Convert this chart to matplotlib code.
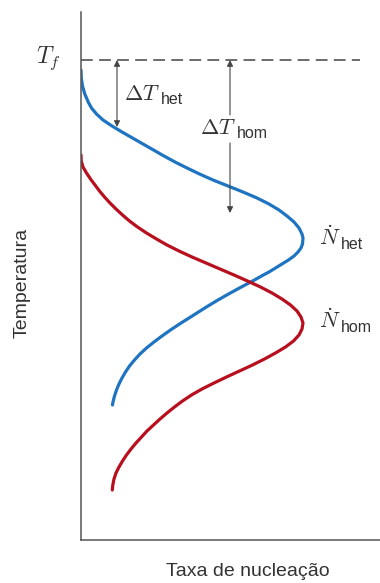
import matplotlib
matplotlib.use('Agg')
from matplotlib import pyplot as plt

plt.rcParams['mathtext.fontset'] = 'cm'
plt.rcParams['font.family'] = ['Liberation Sans', 'DejaVu Sans']
plt.rcParams['lines.scale_dashes'] = False

# curves (rate -> x, temperature -> y, arbitrary units)
het_rate = [0, 0.3, 1.5, 3.8, 7.2, 10.5, 15.5, 22, 31, 41, 51.5, 62, 72.5, 83, 94, 106,
            118.5, 132, 147, 162, 176, 188, 198, 206, 213, 218, 221, 222,
            221.5, 220, 217, 213, 207.5, 201, 194.5, 188, 180.5, 173.5, 166, 158.5, 147.5,
            137, 127, 117.5, 108, 98.5, 89.5, 81, 73, 65.5, 59, 53.5, 48.5, 44.5, 41, 38,
            35.5, 33.5, 32, 31.5]
het_temp = [470, 462, 454, 446, 438, 432, 426, 420, 414, 408, 402, 396, 390, 384, 378, 372,
            366, 360, 354, 348, 342, 336, 330, 324, 318, 312, 306, 302,
            296, 292, 288, 284, 280, 276, 272, 268, 264, 260, 256, 252, 246,
            240, 234, 228, 222, 216, 210, 204, 198, 192, 186, 180, 174, 168, 162, 156,
            150, 144, 138, 135]

hom_rate = [0, 0.2, 2, 5.5, 9.5, 14, 18.5, 23.5, 29, 35, 41.5, 48.5, 56.5, 65.5, 75.5, 86,
            98, 111, 125, 139, 153, 166.5, 179.5, 191, 201, 209.5, 216, 220, 222,
            221, 218, 212.5, 204.5, 194.5, 183.5, 171.5, 158.5, 145.5, 133, 121, 110.5,
            101.5, 93.5, 86, 79, 72.5, 66, 60.5, 55, 50, 45.5, 41.5, 38, 35, 33, 31.8, 31.3]
hom_temp = [385, 379, 373, 367, 361, 355, 349, 343, 337, 331, 325, 319, 313, 307, 301, 295,
            289, 283, 277, 271, 265, 259, 253, 247, 241, 235, 229, 223, 217,
            211, 205, 199, 193, 187, 181, 175, 169, 163, 157, 151, 145,
            139, 133, 127, 121, 115, 109, 103, 97, 91, 85, 79, 73, 67, 61, 55, 50]

t_melt = 480
dash_end = 279
het_arrow = (36, 413)      # rate, lower temperature
hom_arrow = (149, 425, 397, 327)  # rate, upper seg bottom, lower seg top, lower seg bottom

txt = '#333333'

fig = plt.figure(figsize=(3.8, 5.83), dpi=100)
ax = fig.add_axes([81 / 380, 43 / 583, 299 / 380, 528 / 583])
ax.set_xlim(0, 299)
ax.set_ylim(0, 528)
for s in ['top', 'right']:
    ax.spines[s].set_visible(False)
for s in ['left', 'bottom']:
    ax.spines[s].set_color('#555555')
    ax.spines[s].set_linewidth(1.1)
ax.set_xticks([])
ax.set_yticks([])

ax.plot([0, dash_end], [t_melt, t_melt], color='#444444', lw=1.1, dashes=(8.5, 4.5))

ax.plot(het_rate, het_temp, color='#1f74c2', lw=2.3, solid_capstyle='round', solid_joinstyle='round')
ax.plot(hom_rate, hom_temp, color='#b80f1e', lw=2.3, solid_capstyle='round', solid_joinstyle='round')

arw = dict(color='#444444', lw=0.8, shrinkA=0, shrinkB=0, mutation_scale=9)
ax.annotate('', xy=(het_arrow[0], t_melt), xytext=(het_arrow[0], het_arrow[1]),
            arrowprops=dict(arrowstyle='<|-|>', **arw))
ax.annotate('', xy=(hom_arrow[0], t_melt), xytext=(hom_arrow[0], hom_arrow[1]),
            arrowprops=dict(arrowstyle='-|>', **arw))
ax.annotate('', xy=(hom_arrow[0], hom_arrow[3]), xytext=(hom_arrow[0], hom_arrow[2]),
            arrowprops=dict(arrowstyle='-|>', **arw))


def label(x, y, main, sub, ms=16, ss=11.5):
    # main symbol in math italic, subscript in plain sans
    t = ax.text(x, y, main, fontsize=ms, color=txt, ha='left', va='baseline')
    fig.canvas.draw()
    bb = t.get_window_extent()
    x0 = ax.transData.transform((x, y))[0]
    ax.annotate(sub, xy=(x, y), xytext=(bb.x1 - x0 + 0.5, -4), textcoords='offset pixels',
                fontsize=ss, color=txt, ha='left', va='baseline')


label(43, 440, r'$\mathit{\Delta}T$', 'het')
label(119, 406, r'$\mathit{\Delta}T$', 'hom')
label(238, 295, r'$\dot{N}$', 'het')
label(238, 212, r'$\dot{N}$', 'hom')
ax.text(-45, 477, r'$T_f$', fontsize=17, color=txt, ha='left', va='baseline')

fig.text(22 / 380, 1 - 283 / 583, 'Temperatura', rotation=90, fontsize=14, color=txt,
         ha='center', va='center')
fig.text(248 / 380, 1 - 571 / 583, 'Taxa de nucleação', fontsize=14, color=txt,
         ha='center', va='center')

fig.savefig('out.png', dpi=100)
